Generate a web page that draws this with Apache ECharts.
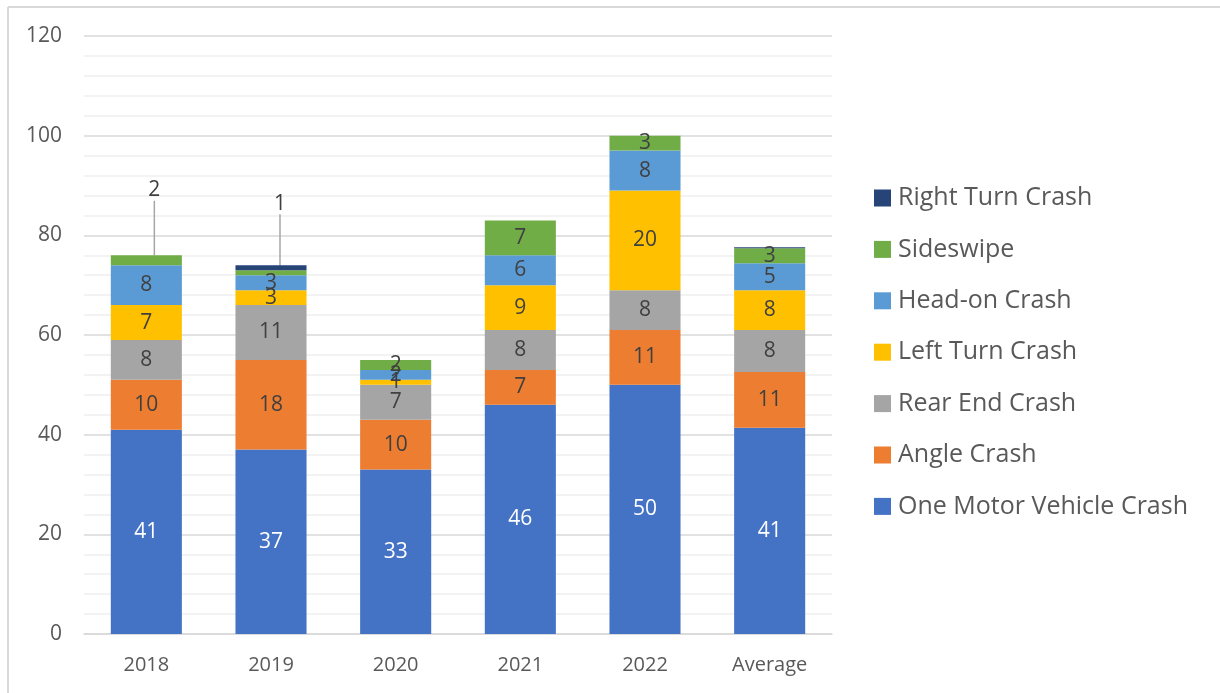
<!DOCTYPE html>
<html>
<head>
<meta charset="utf-8">
<script src="https://cdn.jsdelivr.net/npm/echarts@6/dist/echarts.min.js"></script>
<style>
html,body{margin:0;padding:0;background:#fff;}
#chart{width:1220px;height:693px;}
</style>
</head>
<body>
<div id="chart"></div>
<script>
const categories = ['2018', '2019', '2020', '2021', '2022', 'Average'];
const oneMotor = [41, 37, 33, 46, 50, 41.4];
const angle = [10, 18, 10, 7, 11, 11.2];
const rearEnd = [8, 11, 7, 8, 8, 8.4];
const leftTurn = [7, 3, 1, 9, 20, 8];
const headOn = [8, 3, 2, 6, 8, 5.4];
const sideswipe = [2, 1, 2, 7, 3, 3];
const rightTurn = [0, 1, 0, 0, 0, 0.2];
const yTicks = [0, 20, 40, 60, 80, 100, 120];

const FONT = 'Open Sans';
const seriesDefs = [
  { name: 'One Motor Vehicle Crash', data: oneMotor, color: '#4472C4', labelColor: '#ffffff', showLabel: true },
  { name: 'Angle Crash', data: angle, color: '#ED7D31', labelColor: '#404040', showLabel: true },
  { name: 'Rear End Crash', data: rearEnd, color: '#A5A5A5', labelColor: '#404040', showLabel: true },
  { name: 'Left Turn Crash', data: leftTurn, color: '#FFC000', labelColor: '#404040', showLabel: true },
  { name: 'Head-on Crash', data: headOn, color: '#5B9BD5', labelColor: '#404040', showLabel: true },
  { name: 'Sideswipe', data: sideswipe, color: '#70AD47', labelColor: '#404040', showLabel: true, callout: true },
  { name: 'Right Turn Crash', data: rightTurn, color: '#264478', labelColor: '#404040', showLabel: false }
];

const series = seriesDefs.map(function (d) {
  const s = {
    name: d.name,
    type: 'bar',
    stack: 'total',
    barCategoryGap: '43%',
    itemStyle: { color: d.color },
    label: {
      show: d.showLabel,
      position: 'inside',
      color: d.labelColor,
      fontFamily: FONT,
      fontSize: 21,
      formatter: function (p) { return p.value ? String(Math.round(p.value)) : ''; }
    },
    data: d.data.map(function (v, i) {
      if (d.callout && (i === 0 || i === 1)) {
        return { value: v, labelLine: { show: true, lineStyle: { color: '#a6a6a6', width: 1.5 } } };
      }
      return v;
    })
  };
  if (d.callout) {
    s.labelLayout = function (p) {
      if (p.dataIndex === 0) return { dx: 8, dy: -70 };
      if (p.dataIndex === 1) return { dx: 9, dy: -69 };
      return {};
    };
  }
  return s;
});

const chart = echarts.init(document.getElementById('chart'));
chart.setOption({
  animation: false,
  backgroundColor: '#ffffff',
  textStyle: { fontFamily: FONT },
  graphic: [
    { type: 'line', shape: { x1: 8, y1: 7, x2: 1220, y2: 7 }, style: { stroke: '#d9d9d9', lineWidth: 2 } },
    { type: 'line', shape: { x1: 8, y1: 7, x2: 8, y2: 693 }, style: { stroke: '#d9d9d9', lineWidth: 2 } }
  ],
  grid: { left: 84, right: 388, top: 36, bottom: 59, containLabel: false },
  legend: {
    orient: 'vertical',
    left: 874,
    top: 184,
    padding: 0,
    itemWidth: 17,
    itemHeight: 17,
    itemGap: 23.4,
    icon: 'rect',
    data: seriesDefs.map(function (d) { return d.name; }).reverse(),
    textStyle: { color: '#595959', fontSize: 25, fontFamily: FONT, lineHeight: 28, padding: [0, 0, 0, 2] }
  },
  xAxis: {
    type: 'category',
    data: categories,
    axisLine: { show: true, lineStyle: { color: '#d9d9d9', width: 1.5 } },
    axisTick: { show: false },
    axisLabel: { color: '#595959', fontSize: 20, fontFamily: FONT, margin: 21 }
  },
  yAxis: {
    type: 'value',
    min: yTicks[0],
    max: yTicks[yTicks.length - 1],
    interval: 20,
    axisLine: { show: false },
    axisTick: { show: false },
    axisLabel: { color: '#595959', fontSize: 21, fontFamily: FONT, margin: 22 },
    splitLine: { show: true, lineStyle: { color: '#d9d9d9', width: 1.5 } },
    minorTick: { show: false, splitNumber: 5 },
    minorSplitLine: { show: true, lineStyle: { color: '#f0f0f0', width: 1.5 } }
  },
  series: series
});
</script>
</body>
</html>
